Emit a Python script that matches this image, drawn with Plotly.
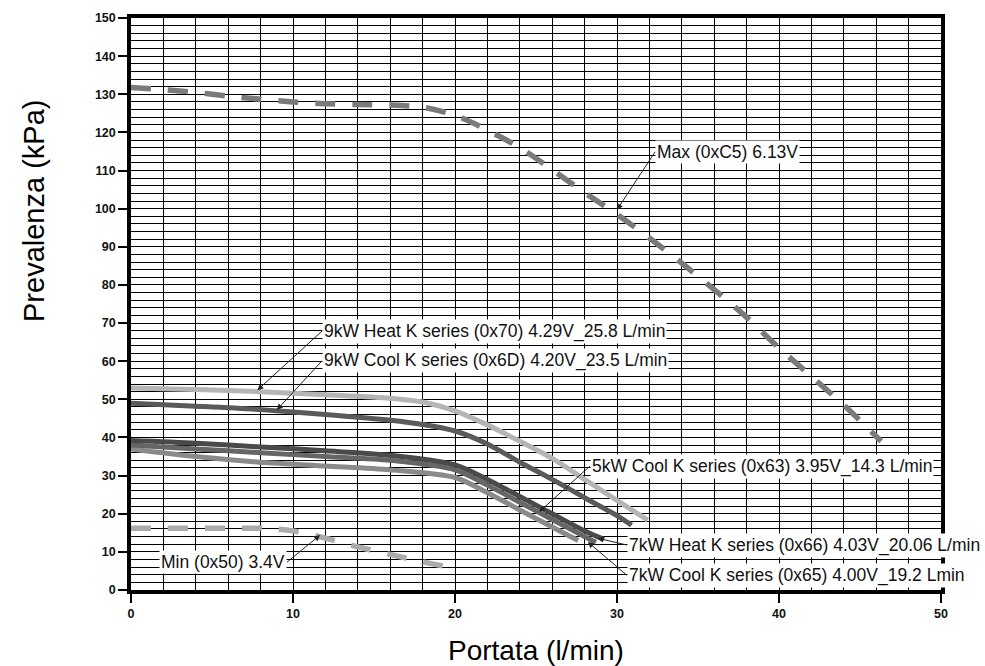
import plotly.graph_objects as go

# ---------------- data ----------------
max_x = [0, 2, 4, 6, 8, 10, 12, 14, 16, 18, 20, 22, 24, 26, 28, 30, 32, 34, 36, 38, 40, 42, 44, 46.3]
max_y = [131.8, 131.2, 130.5, 129.5, 128.7, 128.0, 127.5, 127.3, 127.2, 126.6, 124.5, 120.6, 116.0, 110.2, 104.2, 98.5, 92.3, 85.7, 78.8, 71.5, 63.5, 56.0, 48.5, 39.0]

min_x = [0, 2, 4, 6, 8, 9, 10, 12, 14, 16, 18, 19.6]
min_y = [16.2, 16.2, 16.2, 16.2, 16.2, 16.0, 15.5, 13.6, 11.3, 9.3, 7.4, 6.0]

heat9_x = [0, 4, 8, 12, 16, 18, 20, 22, 24, 26, 28, 30, 31.9]
heat9_y = [53.0, 52.6, 52.0, 51.2, 50.3, 49.3, 47.0, 43.3, 39.0, 34.5, 29.0, 23.5, 18.3]

cool9_x = [0, 4, 8, 12, 16, 18, 20, 22, 24, 26, 28, 30, 30.9]
cool9_y = [49.0, 48.2, 47.3, 46.0, 44.5, 43.4, 41.7, 38.3, 33.5, 29.0, 24.2, 19.5, 17.0]

heat7_x = [0, 4, 8, 12, 16, 20, 22, 24, 26, 28, 29.2]
heat7_y = [39.2, 38.5, 37.5, 36.5, 35.3, 32.8, 29.0, 24.5, 20.0, 15.5, 13.3]

cool7_x = [0, 4, 8, 12, 16, 20, 22, 24, 26, 28, 28.7]
cool7_y = [38.0, 37.0, 36.0, 35.0, 34.0, 31.5, 27.5, 23.0, 18.5, 14.0, 12.5]

cool5_x = [0, 4, 8, 12, 16, 20, 22, 24, 26, 27.6]
cool5_y = [37.0, 35.0, 33.5, 32.5, 31.5, 29.5, 25.5, 21.0, 16.5, 13.0]

x_ticks = [0, 10, 20, 30, 40, 50]
y_ticks = [0, 10, 20, 30, 40, 50, 60, 70, 80, 90, 100, 110, 120, 130, 140, 150]

labels = [
    "Max (0xC5) 6.13V",
    "9kW Heat K series (0x70) 4.29V_25.8 L/min",
    "9kW Cool K series (0x6D) 4.20V_23.5 L/min",
    "5kW Cool K series (0x63) 3.95V_14.3 L/min",
    "7kW Heat K series (0x66) 4.03V_20.06 L/min",
    "7kW Cool K series (0x65) 4.00V_19.2 Lmin",
    "Min (0x50) 3.4V",
]
tip_x = [30.0, 7.8, 9.0, 25.2, 28.8, 28.2, 11.67]
tip_y = [99.7, 52.4, 47.2, 20.5, 13.6, 12.6, 14.4]
tail_x = [32.35, 11.79, 11.79, 28.33, 30.6, 30.6, 9.63]
tail_y = [114.9, 67.9, 60.1, 32.5, 11.8, 3.9, 7.3]
anchors = ["left", "left", "left", "left", "left", "left", "right"]

# ---------------- figure ----------------
fig = go.Figure()

def add_line(x, y, color, dash=None, width=5):
    fig.add_trace(go.Scatter(
        x=x, y=y, mode="lines",
        line=dict(color=color, width=width, dash=dash, shape="spline", smoothing=0.8),
        hoverinfo="skip", showlegend=False))

add_line(max_x, max_y, "#7a7a7a", dash="20px,17px", width=5.5)
add_line(min_x, min_y, "#ababab", dash="20px,17px", width=5.5)
add_line(heat9_x, heat9_y, "#b5b5b5")
add_line(cool9_x, cool9_y, "#5a5a5a")
add_line(cool5_x, cool5_y, "#8a8a8a")
add_line(cool7_x, cool7_y, "#666666")
add_line(heat7_x, heat7_y, "#4a4a4a")

for t, xh, yh, xt, yt, anc in zip(labels, tip_x, tip_y, tail_x, tail_y, anchors):
    fig.add_annotation(
        x=xh, y=yh, ax=xt, ay=yt, axref="x", ayref="y",
        text=t, showarrow=True, arrowhead=2, arrowsize=1.2, arrowwidth=1,
        arrowcolor="#222222", xanchor=anc, yanchor="middle",
        font=dict(family="Liberation Sans, Arial, sans-serif", size=17.5, color="#111111"),
        bgcolor="white", borderpad=1)

axis_common = dict(
    showline=True, linecolor="black", linewidth=3.5, mirror=True,
    ticks="outside", ticklen=9, tickwidth=1.5, tickcolor="black",
    showgrid=True, gridcolor="black", gridwidth=1.3, zeroline=False,
    tickfont=dict(family="Liberation Sans Narrow, Arial Narrow, Liberation Sans, Arial", size=12.5,
                  color="#111111", weight="bold"),
    minor=dict(dtick=2, showgrid=True, gridcolor="black", gridwidth=1.3, ticks=""),
)

fig.update_xaxes(range=[0, 50], tickvals=x_ticks, **axis_common)
fig.update_yaxes(range=[0, 150], tickvals=y_ticks, **axis_common)
fig.update_xaxes(minor=dict(tick0=0))
fig.update_yaxes(minor=dict(tick0=0))

fig.add_annotation(text="Portata (l/min)", xref="paper", yref="paper",
                   x=(535.5 - 131) / 810, y=-(650 - 590) / 572, showarrow=False,
                   xanchor="center", yanchor="middle",
                   font=dict(family="Liberation Sans, Arial, sans-serif", size=28, color="black"))
fig.add_annotation(text="Prevalenza (kPa)", xref="paper", yref="paper",
                   x=-(131 - 34) / 810, y=(590 - 211) / 572, showarrow=False, textangle=-90,
                   xanchor="center", yanchor="middle",
                   font=dict(family="Liberation Sans, Arial, sans-serif", size=29, color="black"))

fig.update_layout(
    width=985, height=666,
    margin=dict(l=131, r=44, t=18, b=76),
    paper_bgcolor="white", plot_bgcolor="white",
    showlegend=False,
)

fig.write_html("out.html", config={"displayModeBar": False},
               post_script="document.body.style.margin='0px';document.body.style.padding='0px';")
